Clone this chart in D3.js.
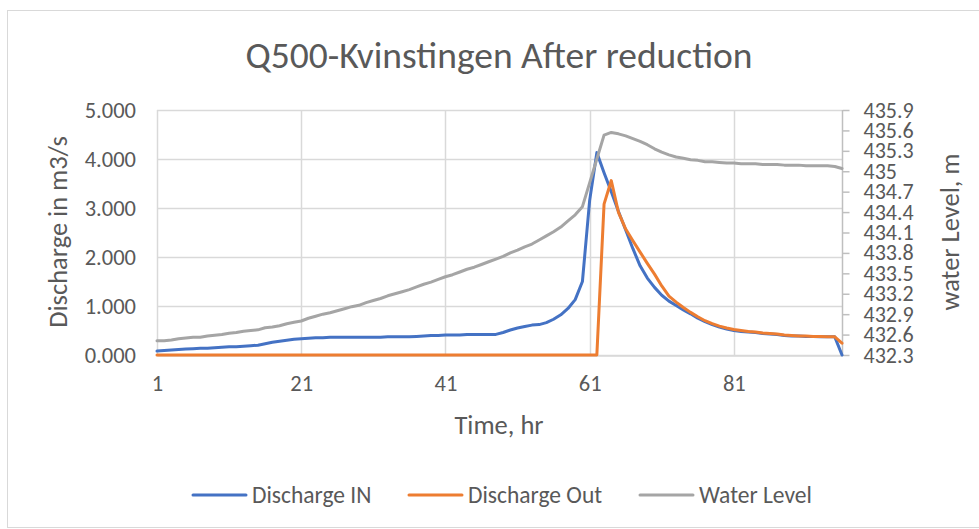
<!DOCTYPE html>
<html>
<head>
<meta charset="utf-8">
<script src="https://cdn.jsdelivr.net/npm/d3@7"></script>
<style>
  html, body { margin: 0; padding: 0; background: #ffffff; }
  svg { display: block; }
  text { font-family: Carlito, Calibri, Lato, "Open Sans", sans-serif; fill: #595959; }
</style>
</head>
<body>
<svg id="chart" width="979" height="529"></svg>
<script>
// ---------- DATA ----------
const titleText = "Q500-Kvinstingen After reduction";
const hours = [1,2,3,4,5,6,7,8,9,10,11,12,13,14,15,16,17,18,19,20,
  21,22,23,24,25,26,27,28,29,30,31,32,33,34,35,36,37,38,39,40,
  41,42,43,44,45,46,47,48,49,50,51,52,53,54,55,56,57,58,59,60,
  61,62,63,64,65,66,67,68,69,70,71,72,73,74,75,76,77,78,79,80,
  81,82,83,84,85,86,87,88,89,90,91,92,93,94,95,96];

const dischargeIn = [
  0.08,0.09,0.10,0.11,0.12,0.13,0.14,0.14,0.15,0.16,
  0.17,0.17,0.18,0.19,0.20,0.23,0.26,0.28,0.30,0.32,
  0.33,0.34,0.35,0.35,0.36,0.36,0.36,0.36,0.36,0.36,
  0.36,0.36,0.37,0.37,0.37,0.37,0.38,0.39,0.40,0.40,
  0.41,0.41,0.41,0.42,0.42,0.42,0.42,0.42,0.46,0.51,
  0.55,0.58,0.61,0.62,0.66,0.73,0.82,0.95,1.13,1.50,
  3.15,4.13,3.72,3.33,2.93,2.55,2.17,1.82,1.57,1.38,
  1.22,1.10,1.01,0.92,0.84,0.75,0.68,0.62,0.57,0.53,
  0.50,0.48,0.47,0.46,0.44,0.43,0.42,0.40,0.39,0.39,
  0.38,0.38,0.37,0.37,0.37,0.00];

const dischargeOut = [
  0,0,0,0,0,0,0,0,0,0,
  0,0,0,0,0,0,0,0,0,0,
  0,0,0,0,0,0,0,0,0,0,
  0,0,0,0,0,0,0,0,0,0,
  0,0,0,0,0,0,0,0,0,0,
  0,0,0,0,0,0,0,0,0,0,
  0,0,3.08,3.56,2.91,2.57,2.33,2.10,1.87,1.65,
  1.41,1.20,1.08,0.97,0.87,0.78,0.70,0.64,0.59,0.55,
  0.52,0.50,0.48,0.47,0.45,0.44,0.43,0.41,0.40,0.39,
  0.39,0.38,0.38,0.37,0.37,0.24];

const waterLevel = [
  432.51,432.51,432.52,432.54,432.55,432.56,432.56,432.58,432.59,432.60,
  432.62,432.63,432.65,432.66,432.67,432.70,432.71,432.73,432.76,432.78,
  432.80,432.84,432.87,432.90,432.92,432.95,432.98,433.01,433.03,433.07,
  433.10,433.13,433.17,433.20,433.23,433.26,433.30,433.34,433.37,433.41,
  433.45,433.48,433.52,433.56,433.59,433.63,433.67,433.71,433.75,433.80,
  433.84,433.89,433.93,433.99,434.05,434.11,434.18,434.27,434.36,434.48,
  434.83,435.18,435.53,435.57,435.55,435.52,435.48,435.44,435.39,435.33,
  435.28,435.24,435.21,435.19,435.17,435.16,435.14,435.14,435.13,435.12,
  435.12,435.11,435.11,435.11,435.10,435.10,435.10,435.09,435.09,435.09,
  435.08,435.08,435.08,435.08,435.07,435.04];

const leftTicks = [0, 1, 2, 3, 4, 5];
const leftTickLabels = ["0.000","1.000","2.000","3.000","4.000","5.000"];
const rightTicks = [432.3,432.6,432.9,433.2,433.5,433.8,434.1,434.4,434.7,435.0,435.3,435.6,435.9];
const rightTickLabels = ["432.3","432.6","432.9","433.2","433.5","433.8","434.1","434.4","434.7","435","435.3","435.6","435.9"];
const xTicks = [1, 21, 41, 61, 81];

const seriesNames = ["Discharge IN", "Discharge Out", "Water Level"];
const seriesColors = ["#4472C4", "#ED7D31", "#A5A5A5"];

// ---------- LAYOUT ----------
const svg = d3.select("#chart");
const plot = { left: 157, right: 842, top: 110, bottom: 355 };
const FONT = "Carlito, Calibri, Lato, sans-serif";

const x = d3.scaleLinear().domain([1, 96]).range([plot.left, plot.right]);
const yL = d3.scaleLinear().domain([0, 5]).range([plot.bottom, plot.top]);
const yR = d3.scaleLinear().domain([432.3, 435.9]).range([plot.bottom, plot.top]);

// outer chart border
svg.append("rect")
  .attr("x", 7.5).attr("y", 10.5).attr("width", 1000).attr("height", 517)
  .attr("fill", "#ffffff").attr("stroke", "#D9D9D9").attr("stroke-width", 1);

// title
svg.append("text")
  .attr("x", 499).attr("y", 55)
  .attr("text-anchor", "middle").attr("dominant-baseline", "central")
  .style("font-size", "37.5px")
  .text(titleText);

// horizontal gridlines
svg.append("g").selectAll("line").data(leftTicks).join("line")
  .attr("x1", plot.left).attr("x2", plot.right)
  .attr("y1", d => Math.round(yL(d)) + 0.5).attr("y2", d => Math.round(yL(d)) + 0.5)
  .attr("stroke", "#D9D9D9").attr("stroke-width", 1.5);

// vertical gridlines
svg.append("g").selectAll("line").data(xTicks).join("line")
  .attr("x1", d => Math.round(x(d)) + 0.5).attr("x2", d => Math.round(x(d)) + 0.5)
  .attr("y1", plot.top).attr("y2", plot.bottom)
  .attr("stroke", "#D9D9D9").attr("stroke-width", 1.5);

// left axis (labels only)
const leftAxis = d3.axisLeft(yL).tickValues(leftTicks)
  .tickFormat((d, i) => leftTickLabels[i]).tickSize(0).tickPadding(21);
const gL = svg.append("g").attr("transform", `translate(${plot.left},0)`).call(leftAxis);
gL.select(".domain").remove();
gL.selectAll("text").style("font-size", "22.5px").attr("fill", "#595959").style("font-family", FONT);

// right axis with outward ticks
const rightAxis = d3.axisRight(yR).tickValues(rightTicks)
  .tickFormat((d, i) => rightTickLabels[i]).tickSize(7).tickPadding(14);
const gR = svg.append("g").attr("transform", `translate(${plot.right + 0.5},0)`).call(rightAxis);
gR.select(".domain").attr("stroke", "#BFBFBF").attr("stroke-width", 1.5)
  .attr("d", `M0,${plot.top}V${plot.bottom}`);
gR.selectAll(".tick line").attr("stroke", "#BFBFBF").attr("stroke-width", 1.5);
gR.selectAll("text").style("font-size", "22px").attr("fill", "#595959").style("font-family", FONT);

// bottom axis
const bottomAxis = d3.axisBottom(x).tickValues(xTicks).tickFormat(d3.format("d"))
  .tickSize(0).tickPadding(20);
const gB = svg.append("g").attr("transform", `translate(0,${plot.bottom + 0.5})`).call(bottomAxis);
gB.select(".domain").attr("stroke", "#D9D9D9").attr("stroke-width", 1.5);
gB.selectAll("text").style("font-size", "22.5px").attr("fill", "#595959").style("font-family", FONT);

// axis titles
svg.append("text")
  .attr("transform", "translate(58,232) rotate(-90)")
  .attr("text-anchor", "middle").attr("dominant-baseline", "central")
  .style("font-size", "26.5px").text("Discharge in m3/s");
svg.append("text")
  .attr("transform", "translate(950,232) rotate(-90)")
  .attr("text-anchor", "middle").attr("dominant-baseline", "central")
  .style("font-size", "26.5px").text("water Level, m");
svg.append("text")
  .attr("x", 499).attr("y", 425)
  .attr("text-anchor", "middle").attr("dominant-baseline", "central")
  .style("font-size", "26.5px").text("Time, hr");

// series lines
const lineL = d3.line().x((d, i) => x(hours[i])).y(d => yL(d));
const lineR = d3.line().x((d, i) => x(hours[i])).y(d => yR(d));

const gLines = svg.append("g").attr("fill", "none")
  .attr("stroke-width", 3).attr("stroke-linejoin", "round").attr("stroke-linecap", "round");
gLines.append("path").attr("d", lineL(dischargeIn)).attr("stroke", seriesColors[0]);
gLines.append("path").attr("d", lineL(dischargeOut)).attr("stroke", seriesColors[1]);
gLines.append("path").attr("d", lineR(waterLevel)).attr("stroke", seriesColors[2]);

// legend
const legendItems = [
  { name: seriesNames[0], color: seriesColors[0], x: 193 },
  { name: seriesNames[1], color: seriesColors[1], x: 409 },
  { name: seriesNames[2], color: seriesColors[2], x: 640 }
];
const gLeg = svg.append("g");
const li = gLeg.selectAll("g").data(legendItems).join("g")
  .attr("transform", d => `translate(${d.x},495)`);
li.append("line").attr("x1", 0).attr("x2", 53).attr("y1", 0).attr("y2", 0)
  .attr("stroke", d => d.color).attr("stroke-width", 3).attr("stroke-linecap", "round");
li.append("text").attr("x", 59).attr("y", 0).attr("dominant-baseline", "central")
  .style("font-size", "23.5px").text(d => d.name);
</script>
</body>
</html>
